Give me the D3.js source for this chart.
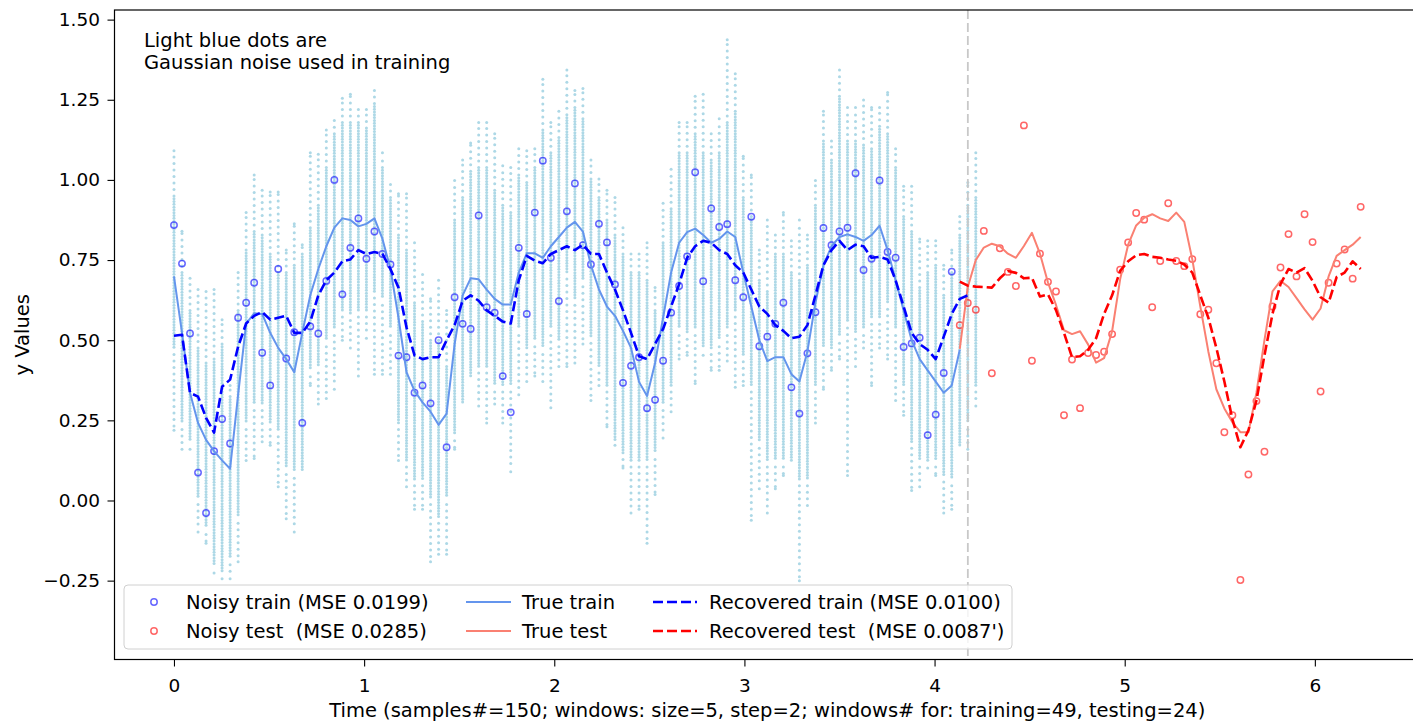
<!DOCTYPE html>
<html>
<head>
<meta charset="utf-8">
<script src="https://cdn.jsdelivr.net/npm/d3@7"></script>
<style>
  body { margin: 0; background: #fff; }
  svg text { font-family: "DejaVu Sans", sans-serif; fill: #000; white-space: pre; }
</style>
</head>
<body>
<script>
// time grid: sample k sits at k * dt
var dt = 2 * Math.PI / 149;
var trainStart = 0;
var testStart = 98;
var splitTime = 4.175;

// noisy observations (circles)
var noisyTrain = [
  0.859, 0.739, 0.521, 0.087, -0.039, 0.154, 0.254, 0.178, 0.570, 0.617,
  0.679, 0.461, 0.359, 0.722, 0.443, 0.525, 0.242, 0.543, 0.521, 0.685,
  1.000, 0.643, 0.788, 0.880, 0.754, 0.839, 0.769, 0.736, 0.452, 0.447,
  0.336, 0.359, 0.303, 0.500, 0.166, 0.634, 0.551, 0.535, 0.889, 0.603,
  0.586, 0.388, 0.275, 0.788, 0.582, 0.898, 1.060, 0.757, 0.622, 0.902,
  0.989, 0.796, 0.736, 0.863, 0.805, 0.674, 0.367, 0.420, 0.447, 0.288,
  0.314, 0.436, 0.586, 0.669, 0.761, 1.024, 0.684, 0.911, 0.853, 0.862,
  0.687, 0.634, 0.885, 0.481, 0.511, 0.551, 0.617, 0.353, 0.271, 0.459,
  0.587, 0.850, 0.796, 0.839, 0.851, 1.021, 0.719, 0.754, 0.998, 0.775,
  0.757, 0.479, 0.490, 0.508, 0.204, 0.268, 0.398, 0.714
];
var noisyTest = [
  0.547, 0.616, 0.595, 0.841, 0.397, 0.787, 0.713, 0.669, 1.170, 0.436,
  0.770, 0.682, 0.652, 0.266, 0.440, 0.288, 0.460, 0.454, 0.464, 0.519,
  0.720, 0.805, 0.897, 0.876, 0.603, 0.747, 0.927, 0.747, 0.731, 0.753,
  0.581, 0.595, 0.428, 0.213, 0.266, -0.248, 0.081, 0.310, 0.152, 0.605,
  0.727, 0.831, 0.699, 0.893, 0.806, 0.340, 0.679, 0.739, 0.783, 0.692,
  0.916
];

// true signal
var trueTrain = [
  0.699, 0.523, 0.336, 0.242, 0.189, 0.154, 0.125, 0.099, 0.330, 0.552,
  0.584, 0.582, 0.523, 0.476, 0.441, 0.400, 0.523, 0.640, 0.722, 0.793,
  0.851, 0.880, 0.875, 0.855, 0.863, 0.880, 0.816, 0.722, 0.570, 0.400,
  0.342, 0.306, 0.277, 0.236, 0.271, 0.488, 0.640, 0.693, 0.690, 0.658,
  0.629, 0.611, 0.611, 0.711, 0.771, 0.771, 0.757, 0.793, 0.822, 0.851,
  0.869, 0.839, 0.734, 0.658, 0.605, 0.576, 0.529, 0.476, 0.370, 0.326,
  0.429, 0.570, 0.711, 0.804, 0.837, 0.848, 0.828, 0.804, 0.816, 0.839,
  0.822, 0.711, 0.605, 0.500, 0.435, 0.447, 0.447, 0.394, 0.371, 0.465,
  0.617, 0.734, 0.793, 0.822, 0.830, 0.822, 0.810, 0.828, 0.857, 0.781,
  0.687, 0.593, 0.500, 0.441, 0.406, 0.371, 0.336, 0.359, 0.470
];
var trueTest = [
  0.473, 0.666, 0.750, 0.789, 0.801, 0.793, 0.770, 0.757, 0.794, 0.835,
  0.770, 0.680, 0.610, 0.531, 0.519, 0.528, 0.487, 0.430, 0.444, 0.528,
  0.690, 0.798, 0.858, 0.882, 0.893, 0.880, 0.872, 0.898, 0.869, 0.752,
  0.605, 0.465, 0.347, 0.287, 0.244, 0.213, 0.213, 0.336, 0.500, 0.652,
  0.685, 0.666, 0.631, 0.596, 0.564, 0.599, 0.699, 0.763, 0.781, 0.798,
  0.822
];

// recovered signal (dashed)
var recTrain = [
  0.514, 0.517, 0.336, 0.324, 0.258, 0.212, 0.355, 0.377, 0.480, 0.552,
  0.576, 0.588, 0.564, 0.570, 0.576, 0.523, 0.523, 0.558, 0.640, 0.687,
  0.711, 0.746, 0.752, 0.781, 0.769, 0.775, 0.769, 0.722, 0.664, 0.540,
  0.453, 0.441, 0.447, 0.447, 0.500, 0.547, 0.623, 0.640, 0.623, 0.593,
  0.576, 0.558, 0.552, 0.687, 0.763, 0.748, 0.740, 0.769, 0.781, 0.793,
  0.781, 0.798, 0.769, 0.769, 0.711, 0.658, 0.593, 0.523, 0.450, 0.441,
  0.488, 0.535, 0.605, 0.675, 0.757, 0.793, 0.810, 0.804, 0.781, 0.769,
  0.734, 0.711, 0.658, 0.605, 0.582, 0.547, 0.529, 0.506, 0.511, 0.547,
  0.640, 0.734, 0.781, 0.810, 0.781, 0.798, 0.793, 0.757, 0.760, 0.752,
  0.687, 0.605, 0.523, 0.488, 0.470, 0.441, 0.511, 0.582, 0.629, 0.640
];
var recTest = [
  0.683, 0.670, 0.667, 0.666, 0.664, 0.693, 0.716, 0.710, 0.693, 0.695,
  0.636, 0.643, 0.594, 0.523, 0.447, 0.450, 0.470, 0.506, 0.582, 0.640,
  0.716, 0.746, 0.765, 0.769, 0.760, 0.757, 0.752, 0.748, 0.736, 0.711,
  0.640, 0.570, 0.476, 0.371, 0.254, 0.166, 0.219, 0.312, 0.453, 0.582,
  0.675, 0.722, 0.711, 0.725, 0.685, 0.634, 0.617, 0.697, 0.711, 0.746,
  0.722
];

// gaussian noise columns used in training: outer extent and dense core
var noiseHi = [
  1.091, 0.840, 0.693, 0.658, 0.652, 0.658, 0.564, 0.359, 0.711, 0.898,
  1.015, 0.968, 0.962, 0.962, 0.781, 0.863, 0.798, 1.085, 1.080, 1.156,
  1.185, 1.255, 1.267, 1.220, 1.220, 1.279, 1.085, 0.986, 0.957, 0.957,
  0.804, 0.705, 0.629, 0.687, 0.593, 0.998, 1.062, 1.115, 1.179, 1.179,
  1.144, 1.044, 1.039, 1.097, 1.091, 1.097, 1.314, 1.179, 1.214, 1.343,
  1.279, 1.285, 1.062, 1.003, 0.968, 0.945, 0.851, 0.769, 0.769, 0.804,
  0.664, 0.927, 1.033, 1.179, 1.179, 1.261, 1.267, 1.144, 1.191, 1.437,
  1.331, 1.074, 1.015, 0.781, 0.875, 0.828, 0.898, 0.810, 0.875, 0.828,
  0.998, 1.214, 1.121, 1.343, 1.226, 1.226, 1.249, 1.226, 1.226, 1.273,
  1.097, 0.980, 0.980, 0.816, 0.810, 0.810, 0.734, 0.781, 0.886, 0.992,
  1.085
];
var denseHi = [
  0.950, 0.711, 0.593, 0.476, 0.429, 0.441, 0.488, 0.324, 0.593, 0.781,
  0.839, 0.828, 0.769, 0.711, 0.711, 0.734, 0.769, 0.851, 0.921, 1.039,
  1.144, 1.179, 1.179, 1.179, 1.162, 1.238, 1.039, 0.945, 0.828, 0.781,
  0.617, 0.558, 0.500, 0.500, 0.418, 0.875, 0.945, 1.027, 1.039, 1.039,
  0.968, 0.921, 0.898, 1.015, 0.992, 1.039, 1.156, 1.085, 1.132, 1.203,
  1.226, 1.191, 1.003, 0.945, 0.875, 0.828, 0.769, 0.711, 0.711, 0.687,
  0.593, 0.804, 0.910, 1.085, 1.085, 1.144, 1.085, 1.062, 1.085, 1.179,
  1.214, 0.945, 0.886, 0.687, 0.652, 0.769, 0.769, 0.711, 0.687, 0.734,
  0.921, 1.121, 1.062, 1.261, 1.121, 1.121, 1.109, 1.097, 1.167, 1.144,
  1.039, 0.886, 0.839, 0.664, 0.711, 0.734, 0.640, 0.711, 0.828, 0.921,
  0.945
];
var denseLo = [
  0.476, 0.242, 0.183, 0.008, -0.086, -0.203, -0.226, -0.180, -0.051, 0.242,
  0.301, 0.301, 0.242, 0.219, 0.101, 0.090, 0.090, 0.406, 0.418, 0.500,
  0.535, 0.593, 0.582, 0.593, 0.593, 0.652, 0.629, 0.535, 0.242, 0.125,
  0.066, 0.066, 0.008, -0.051, 0.008, 0.207, 0.301, 0.383, 0.418, 0.418,
  0.359, 0.359, 0.359, 0.535, 0.476, 0.500, 0.476, 0.535, 0.500, 0.711,
  0.629, 0.687, 0.511, 0.418, 0.359, 0.183, 0.148, 0.125, 0.125, 0.125,
  0.148, 0.301, 0.359, 0.535, 0.523, 0.535, 0.476, 0.476, 0.500, 0.535,
  0.593, 0.453, 0.359, 0.183, 0.125, 0.125, 0.125, 0.125, 0.066, 0.066,
  0.359, 0.476, 0.476, 0.511, 0.558, 0.523, 0.535, 0.570, 0.570, 0.617,
  0.535, 0.359, 0.183, 0.125, 0.125, 0.125, 0.078, 0.066, 0.172, 0.242,
  0.359
];
var noiseLo = [
  0.219, 0.160, 0.160, -0.098, -0.133, -0.226, -0.244, -0.244, -0.191, 0.125,
  0.131, 0.183, 0.172, 0.043, -0.057, -0.098, 0.090, 0.359, 0.301, 0.318,
  0.347, 0.500, 0.476, 0.388, 0.506, 0.394, 0.394, 0.394, 0.125, 0.043,
  -0.027, -0.027, -0.191, -0.168, -0.168, 0.160, 0.301, 0.377, 0.295, 0.242,
  0.301, 0.242, 0.090, 0.330, 0.371, 0.388, 0.371, 0.289, 0.418, 0.418,
  0.429, 0.488, 0.312, 0.359, 0.230, 0.172, 0.101, -0.039, -0.027, -0.133,
  0.019, 0.195, 0.277, 0.441, 0.453, 0.365, 0.453, 0.406, 0.406, 0.435,
  0.353, 0.359, -0.062, 0.037, -0.039, 0.037, 0.078, 0.125, -0.250, -0.016,
  0.242, 0.347, 0.406, 0.441, 0.078, 0.418, 0.476, 0.359, 0.476, 0.441,
  0.312, 0.266, 0.031, 0.043, 0.101, 0.078, -0.039, -0.027, 0.166, 0.160,
  0.295
];

var xTicks = [0, 1, 2, 3, 4, 5, 6];
var yTicks = [-0.25, 0, 0.25, 0.5, 0.75, 1.0, 1.25, 1.5];
var legendLabels = [
  ["Noisy train (MSE 0.0199)", "Noisy test  (MSE 0.0285)"],
  ["True train", "True test"],
  ["Recovered train (MSE 0.0100)", "Recovered test  (MSE 0.0087')"]
];
var noteLines = ["Light blue dots are", "Gaussian noise used in training"];
var xLabel = "Time (samples#=150; windows: size=5, step=2; windows# for: training=49, testing=24)";
var yLabel = "y Values";

var w = 1413, h = 722;
var box = { left: 114.5, right: 1420, top: 10, bottom: 659.5 };
var fs = 19.5;

var x = d3.scaleLinear().domain([-0.3128, 6.553]).range([box.left, box.right]);
var y = d3.scaleLinear().domain([-0.496, 1.530]).range([box.bottom, box.top]);

var svg = d3.select("body").append("svg")
    .attr("width", w)
    .attr("height", h);

function toPoints(values, start) {
  return values.map(function(v, k) { return { t: (start + k) * dt, v: v }; });
}

// noise dots, dense core plus sparser tails
var noiseDots = [];
noiseHi.forEach(function(hi, i) {
  var cx = x((trainStart + i) * dt);
  var yTop = y(hi), yDT = y(denseHi[i]), yDB = y(denseLo[i]), yBot = y(noiseLo[i]);
  var p;
  for (p = yDT; p <= yDB; p += 2.8) noiseDots.push([cx, p]);
  for (p = yDT - 6.5; p > yTop + 2; p -= 6.5) noiseDots.push([cx, p]);
  if (yTop < yDT - 2) noiseDots.push([cx, yTop]);
  for (p = yDB + 6.5; p < yBot - 2; p += 6.5) noiseDots.push([cx, p]);
  if (yBot > yDB + 2) noiseDots.push([cx, yBot]);
});

svg.append("g").attr("class", "noise")
  .selectAll("circle")
  .data(noiseDots)
  .enter().append("circle")
    .attr("cx", function(d) { return d[0]; })
    .attr("cy", function(d) { return d[1]; })
    .attr("r", 1.5)
    .attr("fill", "#add8e6");

// split marker
svg.append("line")
  .attr("x1", x(splitTime)).attr("x2", x(splitTime))
  .attr("y1", box.top).attr("y2", box.bottom)
  .attr("stroke", "#c8c8c8")
  .attr("stroke-width", 1.8)
  .attr("stroke-dasharray", "9,4");

function circles(values, start, color) {
  svg.append("g")
    .selectAll("circle")
    .data(toPoints(values, start))
    .enter().append("circle")
      .attr("cx", function(d) { return x(d.t); })
      .attr("cy", function(d) { return y(d.v); })
      .attr("r", 3.2)
      .attr("fill", "none")
      .attr("stroke", color)
      .attr("stroke-opacity", 0.6)
      .attr("stroke-width", 1.5);
}

var line = d3.line()
  .x(function(d) { return x(d.t); })
  .y(function(d) { return y(d.v); });

function path(values, start, color, width, dash) {
  svg.append("path")
    .datum(toPoints(values, start))
    .attr("d", line)
    .attr("fill", "none")
    .attr("stroke", color)
    .attr("stroke-width", width)
    .attr("stroke-linejoin", "round")
    .attr("stroke-dasharray", dash || null);
}

circles(noisyTrain, trainStart, "blue");
circles(noisyTest, testStart, "red");
path(trueTrain, trainStart, "#6495ed", 2);
path(trueTest, testStart, "#fa8072", 2);
path(recTrain, trainStart, "blue", 2.6, "10,4");
path(recTest, testStart, "red", 2.6, "10,4");

// axes frame
svg.append("rect")
  .attr("x", box.left).attr("y", box.top)
  .attr("width", box.right - box.left).attr("height", box.bottom - box.top)
  .attr("fill", "none")
  .attr("stroke", "#000")
  .attr("stroke-width", 1.2);

var yAxis = d3.axisLeft(y).tickValues(yTicks).tickFormat(d3.format(".2f")).tickSize(7).tickPadding(7.5);
var xAxis = d3.axisBottom(x).tickValues(xTicks).tickFormat(d3.format("d")).tickSize(7);

var gy = svg.append("g").attr("transform", "translate(" + box.left + ",0)").call(yAxis);
var gx = svg.append("g").attr("transform", "translate(0," + box.bottom + ")").call(xAxis);
[gx, gy].forEach(function(g) {
  g.select(".domain").remove();
  g.selectAll(".tick line").attr("stroke", "#000").attr("stroke-width", 1.1);
  g.selectAll("text").attr("font-size", 18.5).attr("font-family", null);
});
gx.selectAll("text").attr("dy", null).attr("y", 32.5);

svg.append("text")
  .attr("x", (box.left + box.right) / 2)
  .attr("y", 717)
  .attr("text-anchor", "middle")
  .attr("font-size", fs)
  .text(xLabel);

svg.append("text")
  .attr("transform", "translate(29," + (box.top + box.bottom) / 2 + ") rotate(-90)")
  .attr("text-anchor", "middle")
  .attr("font-size", fs)
  .text(yLabel);

svg.append("g").selectAll("text")
  .data(noteLines)
  .enter().append("text")
    .attr("x", 144)
    .attr("y", function(d, i) { return 47 + i * 21.5; })
    .attr("font-size", fs)
    .text(function(d) { return d; });

// legend
var legend = svg.append("g");
legend.append("rect")
  .attr("x", 124).attr("y", 585)
  .attr("width", 888).attr("height", 64)
  .attr("rx", 4)
  .attr("fill", "#fff").attr("fill-opacity", 0.8)
  .attr("stroke", "#d0d0d0");

var rowY = [602, 631];
var colText = [186, 522, 709];
var rowColors = ["blue", "red"];
var trueColors = ["#6495ed", "#fa8072"];

rowY.forEach(function(ry, r) {
  legend.append("circle")
    .attr("cx", 154).attr("cy", ry).attr("r", 3.2)
    .attr("fill", "none").attr("stroke", rowColors[r])
    .attr("stroke-opacity", 0.6).attr("stroke-width", 1.5);
  legend.append("line")
    .attr("x1", 466).attr("x2", 511).attr("y1", ry).attr("y2", ry)
    .attr("stroke", trueColors[r]).attr("stroke-width", 2);
  legend.append("line")
    .attr("x1", 653).attr("x2", 697).attr("y1", ry).attr("y2", ry)
    .attr("stroke", rowColors[r]).attr("stroke-width", 2.6)
    .attr("stroke-dasharray", "10,4");
  legendLabels.forEach(function(col, c) {
    legend.append("text")
      .attr("x", colText[c]).attr("y", ry)
      .attr("dy", "0.36em")
      .attr("font-size", fs)
      .text(col[r]);
  });
});
</script>
</body>
</html>
